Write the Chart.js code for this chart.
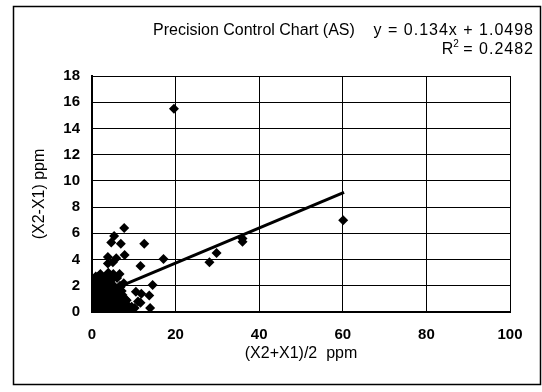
<!DOCTYPE html>
<html>
<head>
<meta charset="utf-8">
<script src="https://cdn.jsdelivr.net/npm/chart.js@4.4.0/dist/chart.umd.min.js"></script>
<style>
  html, body { margin: 0; padding: 0; background: #fff; }
  #wrap { position: relative; width: 542px; height: 392px; }
</style>
</head>
<body>
<div id="wrap"><canvas id="chart" width="542" height="392"></canvas></div>
<script>
// (X2+X1)/2 ppm
const xValues = [
  19.6, 60.1, 36.0, 36.0, 29.8, 28.1, 17.1, 12.5, 11.6, 14.5,
  10.5, 13.7, 11.6, 13.9, 11.8, 11.0, 10.2, 7.7, 5.3, 4.6,
  6.9, 3.8, 5.8, 7.8, 5.0, 3.8,
  0.5, 0.8, 1.0, 1.2, 1.0, 1.5, 0.7, 1.8, 2.0, 2.2,
  2.5, 2.8, 3.0, 3.2, 3.5, 3.6, 3.8, 4.0, 4.2, 4.5,
  4.8, 5.0, 5.2, 5.5, 5.7, 6.0, 6.2, 6.5, 6.8, 7.0,
  7.3, 7.6, 8.0, 8.3, 1.3, 2.3, 3.3, 4.4, 2.6, 1.6,
  5.9, 0.3, 0.4, 6.6, 3.9, 9.0, 9.5,
  0.6, 1.1, 1.4, 1.9, 2.1, 2.4, 2.7, 2.9, 3.1, 3.4,
  3.7, 4.1, 4.3, 4.6, 4.9, 5.1, 5.4, 5.6, 6.1, 6.4,
  6.7, 7.1, 7.4, 0.9, 1.7, 2.2, 3.6, 4.7, 5.3, 6.3,
  7.9, 8.6, 1.2, 2.0, 0.5
];
// (X2-X1) ppm
const yValues = [
  15.5, 7.0, 5.6, 5.35, 4.5, 3.8, 4.05, 5.2, 3.5, 2.05,
  1.55, 1.25, 0.7, 0.3, 1.4, 0.8, 0.3, 6.4, 5.8, 5.3,
  5.2, 4.2, 4.1, 4.35, 3.8, 3.7,
  0.2, 0.5, 1.0, 1.8, 2.4, 2.7, 1.5, 0.3, 1.2, 2.0,
  2.6, 0.8, 1.6, 2.3, 0.2, 1.1, 2.8, 1.9, 0.5, 1.4,
  2.5, 0.9, 2.0, 0.3, 1.6, 2.6, 1.0, 0.1, 1.9, 0.6,
  1.3, 2.2, 0.2, 0.9, 0.05, 0.1, 0.6, 0.15, 1.5, 0.9,
  0.5, 0.8, 1.3, 2.9, 3.0, 0.1, 0.4,
  2.1, 0.3, 1.4, 2.5, 0.6, 1.8, 2.2, 1.0, 0.2, 2.7,
  1.5, 0.9, 2.3, 0.4, 1.7, 2.9, 1.1, 0.1, 1.3, 0.7,
  2.0, 1.6, 0.3, 2.7, 2.0, 0.4, 0.5, 2.1, 1.4, 1.8,
  1.0, 0.5, 0.7, 2.9, 0.0
];

// linear trendline shown on the chart
const slope = 0.134;
const intercept = 1.0498;
const rSquared = 0.2482;
const trendX = [0.3, 60.3];

const xTicks = [0, 20, 40, 60, 80, 100];
const yTicks = [0, 2, 4, 6, 8, 10, 12, 14, 16, 18];

const points = xValues.map(function(x, i){ return {x: x, y: yValues[i]} })
const trend = trendX.map(function(x){ return {x: x, y: slope * x + intercept} })

const tickFont = {family: "'Liberation Sans', Arial, sans-serif", size: 15, weight: 'bold'}
const textFamily = "'Liberation Sans', Arial, sans-serif"

// frame around the whole chart plus the title / equation texts
const decorations = {
    id: 'decorations',
    beforeDraw: function(chart){
        const ctx = chart.ctx
        ctx.save()
        ctx.fillStyle = '#fff'
        ctx.fillRect(0, 0, chart.width, chart.height)
        ctx.strokeStyle = '#000'
        ctx.lineWidth = 1.5
        ctx.strokeRect(13.5, 6.5, 527, 378)
        ctx.restore()
    },
    afterDraw: function(chart){
        const ctx = chart.ctx
        ctx.save()
        ctx.fillStyle = '#000'
        ctx.font = '500 16px ' + textFamily
        ctx.textBaseline = 'middle'
        ctx.textAlign = 'left'
        ctx.fillText('Precision Control Chart (AS)', 153, 31)
        ctx.letterSpacing = '1px'
        ctx.textAlign = 'right'
        ctx.fillText('y = ' + slope + 'x + ' + intercept, 534, 31)
        ctx.fillText('= ' + rSquared, 534, 50)
        const w = ctx.measureText('= ' + rSquared).width
        ctx.letterSpacing = '0px'
        ctx.fillText('R', 534 - w - 10, 50)
        ctx.font = '10px ' + textFamily
        ctx.textAlign = 'left'
        ctx.fillText('2', 534 - w - 10, 44)
        ctx.restore()
    }
}

new Chart(document.getElementById('chart'), {
    type: 'scatter',
    data: {
        datasets: [{
            data: points,
            pointStyle: 'rectRot',
            pointRadius: 5,
            backgroundColor: '#000',
            borderColor: '#000',
            borderWidth: 0
        }, {
            type: 'line',
            data: trend,
            showLine: true,
            pointRadius: 0,
            borderColor: '#000',
            borderWidth: 3
        }]
    },
    options: {
        responsive: false,
        animation: false,
        layout: {padding: {left: 0, top: 76, right: 32, bottom: 0}},
        plugins: {legend: {display: false}, tooltip: {enabled: false}},
        scales: {
            x: {
                type: 'linear', min: 0, max: 100,
                afterBuildTicks: function(s){ s.ticks = xTicks.map(function(v){ return {value: v} }) },
                afterFit: function(s){ s.height = 80 },
                grid: {color: '#000', lineWidth: 1, drawTicks: false},
                border: {color: '#000', width: 2},
                ticks: {color: '#000', font: tickFont, padding: 14, maxRotation: 0},
                title: {display: true, text: '(X2+X1)/2  ppm', color: '#000',
                        font: {family: textFamily, size: 16}, padding: {bottom: 29}}
            },
            y: {
                type: 'linear', min: 0, max: 18,
                afterBuildTicks: function(s){ s.ticks = yTicks.map(function(v){ return {value: v} }) },
                afterFit: function(s){ s.width = 92 },
                grid: {color: '#000', lineWidth: 1, drawTicks: false},
                border: {color: '#000', width: 2},
                ticks: {color: '#000', font: tickFont, padding: 12},
                title: {display: true, text: '(X2-X1) ppm', color: '#000',
                        font: {family: textFamily, size: 16}, padding: {top: 30}}
            }
        }
    },
    plugins: [decorations]
})
</script>
</body>
</html>
